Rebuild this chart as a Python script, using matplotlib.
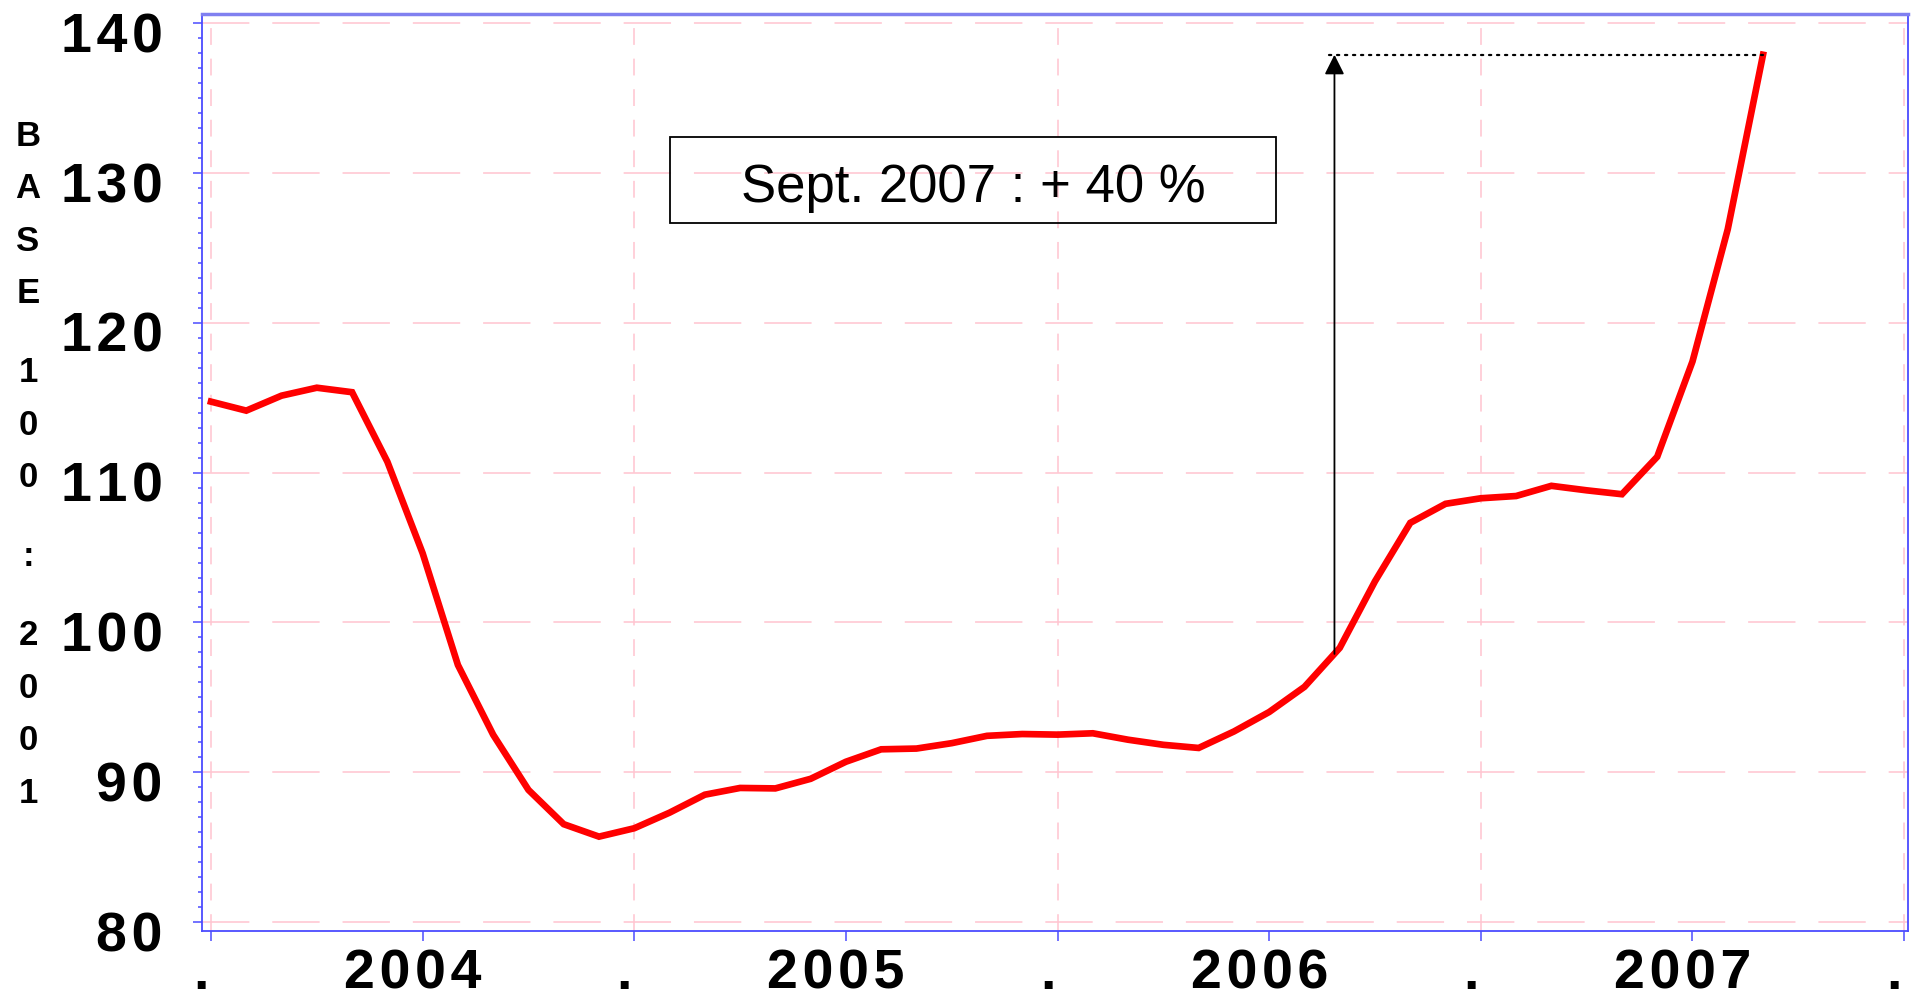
import numpy as np
import matplotlib
matplotlib.use("Agg")
import matplotlib.pyplot as plt
from matplotlib.patches import Rectangle
from matplotlib.transforms import ScaledTranslation
from matplotlib.ticker import MultipleLocator

# monthly index (base 100 : 2001), Jan 2004 .. Sept 2007
values = [114.74, 114.14, 115.14, 115.67, 115.37, 110.73, 104.62, 97.16, 92.5, 88.82,
          86.53, 85.7, 86.26, 87.3, 88.5, 88.95, 88.92, 89.56, 90.7, 91.53,
          91.58, 91.94, 92.43, 92.55, 92.51, 92.6, 92.17, 91.83, 91.62, 92.72,
          94.02, 95.7, 98.3, 102.75, 106.65, 107.92, 108.29, 108.44, 109.12, 108.82,
          108.56, 111.06, 117.42, 126.25, 137.9]
months = list(range(len(values)))

tick_pos = [0, 6, 12, 18, 24, 30, 36, 42, 48]
tick_labels = [".", "2004", ".", "2005", ".", "2006", ".", "2007", "."]
y_ticks = [80, 90, 100, 110, 120, 130, 140]

ylabel_txt = "BASE 100 : 2001"
note_txt = "Sept. 2007 : + 40 %"

plt.rcParams['font.family'] = ['Liberation Sans', 'DejaVu Sans']

def spaced(s):
    # the original labels are drawn with wide letter spacing
    return "\u200a".join(s)

fig = plt.figure(figsize=(19.14, 10), dpi=100)
ax = fig.add_axes([202/1914, 69/1000, 1706/1914, 917/1000])

ax.set_xlim(-0.255, 48.11)
ax.set_ylim(79.4, 140.62)

pink = '#ffc4d0'
for v in y_ticks:
    ax.axhline(v, color=pink, lw=1.1, ls=(0, (31, 15)), zorder=1)
for t in tick_pos[::2]:
    ax.axvline(t, color=pink, lw=1.1, ls=(0, (11, 9)), zorder=1)

ax.plot(months, values, color='#ff0000', lw=4.8, solid_joinstyle='miter', zorder=3)

# annotation: arrow + dotted level + boxed note
top = values[-1]
ax.annotate('', xy=(31.85, top), xytext=(31.85, 97.9),
            arrowprops=dict(arrowstyle='-|>', color='black', lw=1.3,
                            mutation_scale=30, shrinkA=0, shrinkB=0), zorder=4)
ax.plot([31.7, months[-1]], [top, top], color='black', lw=1.6,
        ls=(0, (1, 2.6)), dash_capstyle='round', zorder=4)
ax.add_patch(Rectangle((13.01, 126.67), 17.19, 5.74, fill=False, ec='black', lw=1.3, zorder=4))
ax.text(21.6, 128.09, note_txt, fontsize=38, ha='center', va='baseline', zorder=5)

# axes styling
blue = '#4b4bff'
for s in ['left', 'bottom', 'right']:
    ax.spines[s].set_color(blue)
    ax.spines[s].set_linewidth(1.3)
ax.spines['top'].set_color('#8080f0')
ax.spines['top'].set_linewidth(2.5)

ax.set_yticks(y_ticks)
ax.set_yticklabels([spaced(str(v)) for v in y_ticks], fontsize=40, fontweight='bold')
ax.yaxis.set_minor_locator(MultipleLocator(1))
ax.tick_params(axis='y', which='major', direction='out', length=6.5, width=1.1,
               color=blue, pad=22)
ax.tick_params(axis='y', which='minor', direction='out', length=3, width=1.1, color=blue)
yshift = ScaledTranslation(0, -9/100, fig.dpi_scale_trans)
for lab in ax.get_yticklabels():
    lab.set_transform(lab.get_transform() + yshift)

ax.set_xticks(tick_pos)
ax.set_xticklabels([spaced(t) for t in tick_labels], fontsize=40, fontweight='bold')
ax.tick_params(axis='x', which='major', direction='out', length=7.2, width=1.1,
               color=blue, pad=5.5)
xshift = ScaledTranslation(-10/100, 0, fig.dpi_scale_trans)
for lab in ax.get_xticklabels():
    lab.set_transform(lab.get_transform() + xshift)

# stacked vertical label
step = 52.6
ypix = 136
for ch in ylabel_txt:
    if ch == ' ':
        ypix += step / 2
        continue
    fig.text(28/1914, 1 - ypix/1000, ch, fontsize=25, fontweight='bold',
             ha='center', va='center')
    ypix += step

fig.savefig("out.png", dpi=100)
